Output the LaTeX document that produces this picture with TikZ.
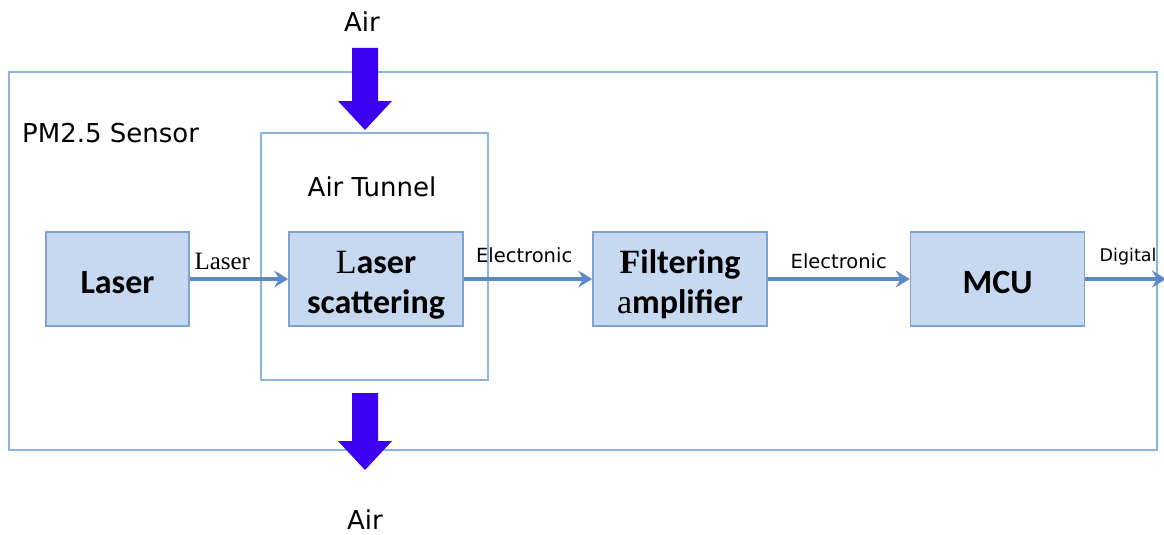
\documentclass[tikz,border=0pt]{standalone}
\usepackage{fontspec}
\newfontfamily\labfont{DejaVu Sans}
\newfontfamily\calfont{Carlito}
\newfontfamily\serfont{Liberation Serif}
\usetikzlibrary{arrows.meta}
\definecolor{boxfill}{HTML}{C6D9F1}
\definecolor{boxline}{HTML}{7EA3D2}
\definecolor{frameline}{HTML}{8DB3E2}
\definecolor{conn}{HTML}{5A8AC6}
\definecolor{airblue}{RGB}{60,0,240}
\newcommand{\blocktext}[1]{\raisebox{0pt}[\dimexpr\height+6pt\relax][\dimexpr\depth-6pt\relax]{\begin{tabular}{@{}c@{}}#1\end{tabular}}}
\tikzset{
  block/.style={draw=boxline, line width=1.6pt, fill=boxfill, minimum width=#1, minimum height=94pt, inner sep=0pt, align=center, font=\calfont\bfseries\fontsize{34}{40}\selectfont},
  block/.default=174pt,
  frame/.style={draw=frameline, line width=1.2pt},
  lbl/.style={font=\labfont\fontsize{26}{30}\selectfont, inner sep=0pt},
  small/.style={font=\labfont\fontsize{19.5}{23}\selectfont, inner sep=0pt},
  conn/.style={draw=conn, line width=3.5pt, -{Stealth[length=14pt,width=17pt,inset=5pt]}},
  airarrow/.style={fill=airblue, draw=none}
}
\begin{document}
\begin{tikzpicture}[x=1pt,y=-1pt]
\useasboundingbox (0,0) rectangle (1164,535);
% frames
\draw[frame] (9,72) rectangle (1157,450);
\draw[frame] (261,133) rectangle (488,380);
\node[lbl, anchor=west] (pm) at (22,133) {PM2.5 Sensor};
\node[lbl] (tunnel) at (372,187) {Air Tunnel};
% blocks
\node[block=143pt] (laser) at (117.5,279) {\blocktext{Laser}};
\node[block] (scat) at (376,279) {\blocktext{{\serfont\mdseries L}aser\\scattering}};
\node[block] (filt) at (680,279) {\blocktext{{\serfont F}iltering\\{\serfont\mdseries a}mplifier}};
\node[block] (mcu) at (997.5,279) {\blocktext{MCU}};
\coordinate (out) at (1166,279);
% connectors
\draw[conn] (laser) -- (scat) node[pos=0.33, above=8pt, font=\serfont\fontsize{25}{28}\selectfont, inner sep=0pt] {Laser};
\draw[conn] (scat) -- (filt) node[pos=0.47, above=14pt, small] {Electronic};
\draw[conn] (filt) -- (mcu) node[midway, above=8pt, small] {Electronic};
\draw[conn] (mcu) -- (out) node[pos=0.53, above=12pt, small, font=\labfont\fontsize{17.5}{21}\selectfont] {Digital};
% air
\node[lbl] (airtop) at (362,22) {Air};
\node[lbl] (airbot) at (365,520) {Air};
\fill[airblue] (352,48) -- (378,48) -- (378,101) -- (392,101) -- (365,130) -- (338,101) -- (352,101) -- cycle;
\fill[airblue] (352,393) -- (378,393) -- (378,441) -- (392,441) -- (365,470) -- (338,441) -- (352,441) -- cycle;
\end{tikzpicture}
\end{document}
